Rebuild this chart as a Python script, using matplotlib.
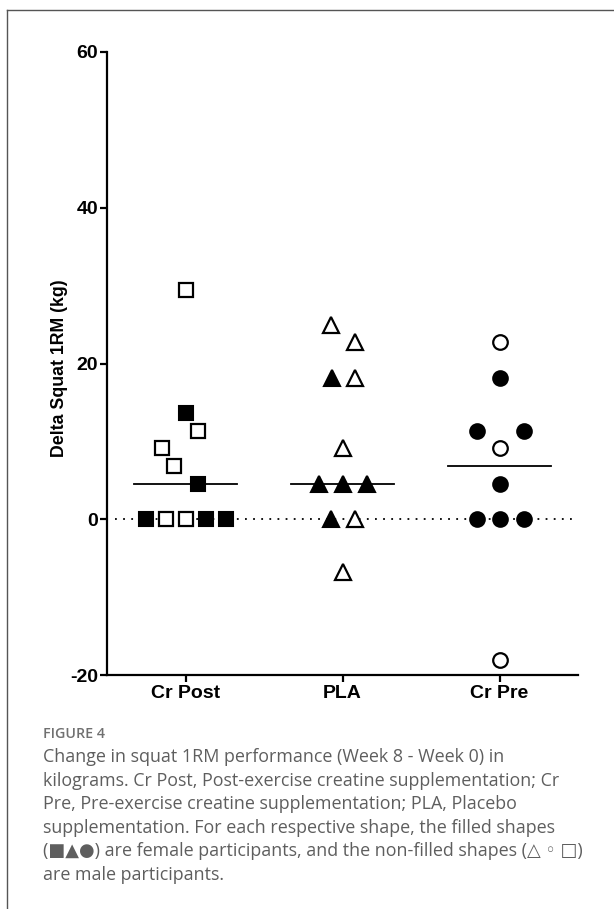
import numpy as np
import matplotlib
matplotlib.use("Agg")
import matplotlib.pyplot as plt
from matplotlib.lines import Line2D

plt.rcParams["axes.unicode_minus"] = False

# ---- data ----
categories = ["Cr Post", "PLA", "Cr Pre"]
cr_post_values = [29.5, 13.6, 11.3, 9.1, 6.8, 4.5, 0, 0, 0, 0, 0]
cr_post_female = [0, 1, 0, 0, 0, 1, 1, 0, 0, 1, 1]
pla_values = [24.9, 22.7, 18.1, 18.1, 9.1, 4.5, 4.5, 4.5, 0, 0, -6.8]
pla_female = [0, 0, 1, 0, 0, 1, 1, 1, 1, 0, 0]
cr_pre_values = [22.7, 18.1, 11.3, 11.3, 9.1, 4.5, 0, 0, 0, -18.1]
cr_pre_female = [0, 1, 1, 1, 0, 1, 1, 1, 1, 0]
y_ticks = [-20, 0, 20, 40, 60]
y_label = "Delta Squat 1RM (kg)"

# horizontal jitter (layout, in pixels)
cr_post_jit = [0, 0, 12, -24, -12, 12, -40, -20, 0, 20, 40]
pla_jit = [-12, 12, -11, 12, 0, -24, 0, 24, -12, 12, 0]
cr_pre_jit = [0, 0, -23, 24, 0, 0, -23, 0, 24, 0]

W, H = 614, 909
fig = plt.figure(figsize=(W / 100, H / 100), dpi=100)
fig.patch.set_facecolor("white")

ax_l, ax_r, ax_t, ax_b = 107, 578, 52, 675
ax = fig.add_axes([ax_l / W, 1 - ax_b / H, (ax_r - ax_l) / W, (ax_b - ax_t) / H])
ax.set_xlim(-0.5, 2.5)
ax.set_ylim(-20, 60)
px_per_unit = (ax_r - ax_l) / 3.0

groups = [
    (cr_post_values, cr_post_female, cr_post_jit, "s", 10.5),
    (pla_values, pla_female, pla_jit, "^", 11.5),
    (cr_pre_values, cr_pre_female, cr_pre_jit, "o", 10.5),
]

# zero reference line
ax.plot([-0.45, 2.47], [0, 0], color="black", lw=1.3, ls=(0, (1, 3.5)), zorder=1)

for i, (vals, fem, jit, mk, ms) in enumerate(groups):
    vals = np.array(vals)
    fem = np.array(fem, dtype=bool)
    xs = i + np.array(jit) / px_per_unit
    med = np.median(vals)
    ax.plot([i - 0.33, i + 0.33], [med, med], color="black", lw=1.3, zorder=2)
    ax.plot(xs[fem], vals[fem], ls="none", marker=mk, ms=ms, mfc="black",
            mec="black", mew=1.5, zorder=3)
    ax.plot(xs[~fem], vals[~fem], ls="none", marker=mk, ms=ms, mfc="white",
            mec="black", mew=1.6, zorder=3)

for s in ["top", "right"]:
    ax.spines[s].set_visible(False)
for s in ["left", "bottom"]:
    ax.spines[s].set_linewidth(1.6)
ax.set_xticks(range(len(categories)))
ax.set_xticklabels(categories)
ax.set_yticks(y_ticks)
ax.tick_params(axis="both", direction="out", length=5, width=1.6, pad=2)
ax.tick_params(axis="y", pad=1.5)
for lab in ax.get_xticklabels() + ax.get_yticklabels():
    lab.set_fontfamily("Liberation Sans")
    lab.set_fontweight("bold")
    lab.set_fontsize(14)

fig.text(60 / W, 1 - 368 / H, y_label, rotation=90, ha="center", va="center",
         family="Liberation Sans", weight="bold", fontsize=12.8)

# frame lines
fig.add_artist(Line2D([7 / W, 1], [1 - 10 / H, 1 - 10 / H], color="#555555", lw=1.0))
fig.add_artist(Line2D([7 / W, 7 / W], [0, 1 - 10 / H], color="#555555", lw=1.0))

# caption
fig.text(43 / W, 1 - 734 / H, "FIGURE 4", family=["Open Sans", "DejaVu Sans"],
         fontsize=10.3, weight="semibold", color="#707070", va="center", ha="left")
caption = [
    "Change in squat 1RM performance (Week 8 - Week 0) in",
    "kilograms. Cr Post, Post-exercise creatine supplementation; Cr",
    "Pre, Pre-exercise creatine supplementation; PLA, Placebo",
    "supplementation. For each respective shape, the filled shapes",
    "(\u25A0\u25B2\u25CF) are female participants, and the non-filled shapes (\u25B3 \u25E6 \u25A1)",
    "are male participants.",
]
for k, line in enumerate(caption):
    fig.text(43 / W, 1 - (757 + 23.6 * k) / H, line, family=["Open Sans", "DejaVu Sans"],
             fontsize=12.9, color="#5e5e5e", va="center", ha="left")

fig.savefig("out.png", dpi=100)
